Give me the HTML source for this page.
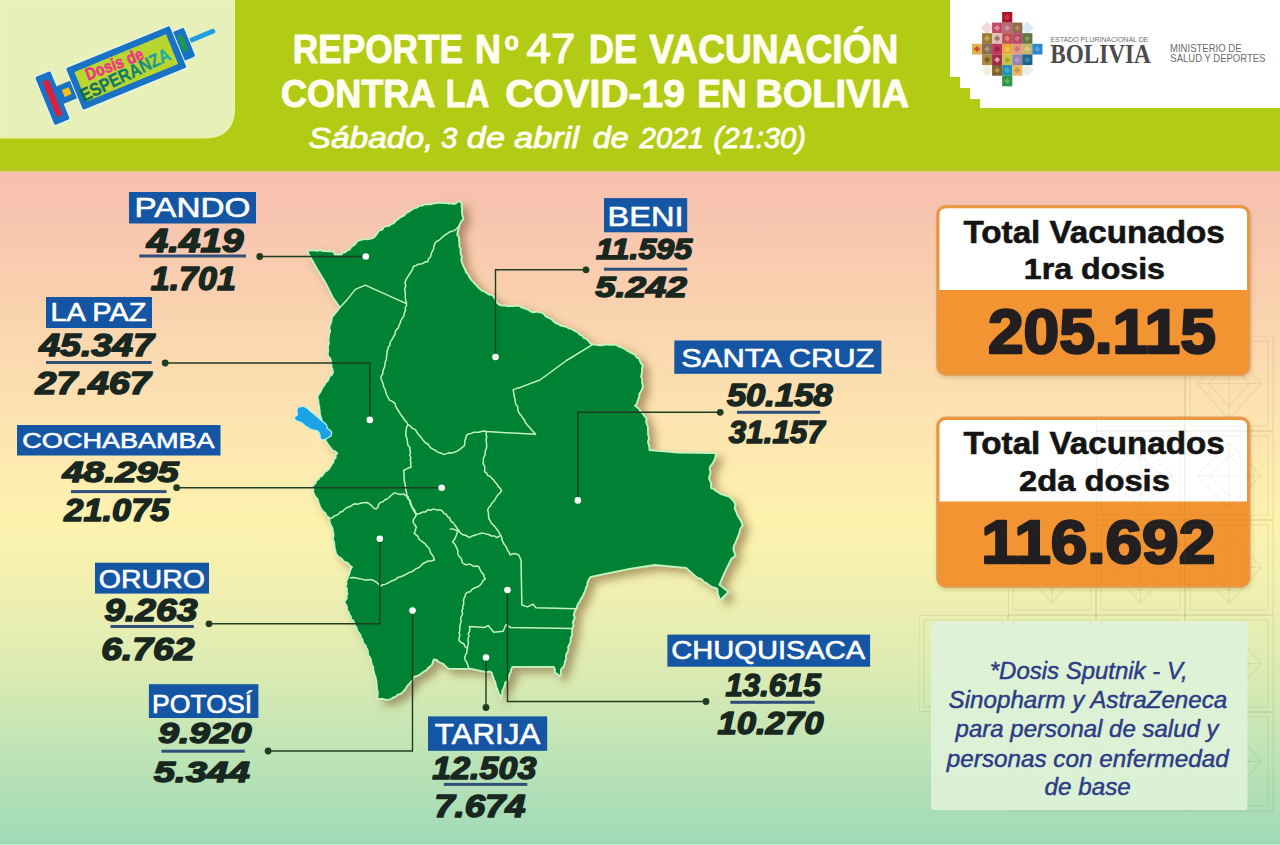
<!DOCTYPE html>
<html><head><meta charset="utf-8"><title>Reporte 47 Vacunacion Bolivia</title>
<style>
html,body{margin:0;padding:0;background:#fff;}
body{width:1280px;height:845px;overflow:hidden;font-family:"Liberation Sans",sans-serif;}
svg{display:block;}
</style></head><body>
<svg width="1280" height="845" viewBox="0 0 1280 845">
<defs>
<linearGradient id="bg" x1="0" y1="171" x2="0" y2="845" gradientUnits="userSpaceOnUse">
<stop offset="0" stop-color="#f6bfad"/>
<stop offset="0.09" stop-color="#f8c7b0"/>
<stop offset="0.19" stop-color="#f9d1ae"/>
<stop offset="0.37" stop-color="#fde4b0"/>
<stop offset="0.52" stop-color="#fdf2ae"/>
<stop offset="0.62" stop-color="#f0f0b0"/>
<stop offset="0.74" stop-color="#dcebb2"/>
<stop offset="0.86" stop-color="#bfe4b5"/>
<stop offset="1" stop-color="#9fdab7"/>
</linearGradient>
<filter id="msh" x="-10%" y="-10%" width="130%" height="130%">
<feGaussianBlur in="SourceAlpha" stdDeviation="4.2"/>
<feOffset dx="5.5" dy="5" result="b"/>
<feFlood flood-color="#6b4a20" flood-opacity="0.5"/>
<feComposite in2="b" operator="in"/>
<feMerge><feMergeNode/><feMergeNode in="SourceGraphic"/></feMerge>
</filter>
<filter id="bsh" x="-10%" y="-10%" width="130%" height="130%">
<feGaussianBlur in="SourceAlpha" stdDeviation="2"/>
<feOffset dx="1" dy="2" result="b"/>
<feFlood flood-color="#7a5020" flood-opacity="0.25"/>
<feComposite in2="b" operator="in"/>
<feMerge><feMergeNode/><feMergeNode in="SourceGraphic"/></feMerge>
</filter>
</defs>
<rect x="0" y="0" width="1280" height="845" fill="url(#bg)"/>

<defs><clipPath id="patclip"><path d="M1183,336 H1280 V845 H1008 V712 H919 V615 H1008 V520 H1096 V431 H1183 Z"/></clipPath></defs>
<g clip-path="url(#patclip)" fill="none" stroke="#7d7a3a" stroke-opacity="0.13" stroke-width="1.1">
<rect x="919" y="336" width="89" height="95"/>
<rect x="924" y="341" width="79" height="85"/>
<path d="M963.5,348.0 L996.0,383.5 L963.5,419.0 L931.0,383.5 Z"/>
<path d="M963.5,360.0 L984.0,383.5 L963.5,407.0 L943.0,383.5 Z"/>
<path d="M931.0,383.5 H996.0 M963.5,348.0 V419.0"/>
<rect x="919" y="431" width="89" height="89"/>
<rect x="924" y="436" width="79" height="79"/>
<path d="M963.5,443.0 L996.0,475.5 L963.5,508.0 L931.0,475.5 Z"/>
<path d="M963.5,455.0 L984.0,475.5 L963.5,496.0 L943.0,475.5 Z"/>
<path d="M931.0,475.5 H996.0 M963.5,443.0 V508.0"/>
<rect x="919" y="520" width="89" height="95"/>
<rect x="924" y="525" width="79" height="85"/>
<path d="M963.5,532.0 L996.0,567.5 L963.5,603.0 L931.0,567.5 Z"/>
<path d="M963.5,544.0 L984.0,567.5 L963.5,591.0 L943.0,567.5 Z"/>
<path d="M931.0,567.5 H996.0 M963.5,532.0 V603.0"/>
<rect x="919" y="615" width="89" height="97"/>
<rect x="924" y="620" width="79" height="87"/>
<path d="M963.5,627.0 L996.0,663.5 L963.5,700.0 L931.0,663.5 Z"/>
<path d="M963.5,639.0 L984.0,663.5 L963.5,688.0 L943.0,663.5 Z"/>
<path d="M931.0,663.5 H996.0 M963.5,627.0 V700.0"/>
<rect x="919" y="712" width="89" height="99"/>
<rect x="924" y="717" width="79" height="89"/>
<path d="M963.5,724.0 L996.0,761.5 L963.5,799.0 L931.0,761.5 Z"/>
<path d="M963.5,736.0 L984.0,761.5 L963.5,787.0 L943.0,761.5 Z"/>
<path d="M931.0,761.5 H996.0 M963.5,724.0 V799.0"/>
<rect x="1008" y="336" width="88" height="95"/>
<rect x="1013" y="341" width="78" height="85"/>
<path d="M1052.0,348.0 L1084.0,383.5 L1052.0,419.0 L1020.0,383.5 Z"/>
<path d="M1052.0,360.0 L1072.0,383.5 L1052.0,407.0 L1032.0,383.5 Z"/>
<path d="M1020.0,383.5 H1084.0 M1052.0,348.0 V419.0"/>
<rect x="1008" y="431" width="88" height="89"/>
<rect x="1013" y="436" width="78" height="79"/>
<path d="M1052.0,443.0 L1084.0,475.5 L1052.0,508.0 L1020.0,475.5 Z"/>
<path d="M1052.0,455.0 L1072.0,475.5 L1052.0,496.0 L1032.0,475.5 Z"/>
<path d="M1020.0,475.5 H1084.0 M1052.0,443.0 V508.0"/>
<rect x="1008" y="520" width="88" height="95"/>
<rect x="1013" y="525" width="78" height="85"/>
<path d="M1052.0,532.0 L1084.0,567.5 L1052.0,603.0 L1020.0,567.5 Z"/>
<path d="M1052.0,544.0 L1072.0,567.5 L1052.0,591.0 L1032.0,567.5 Z"/>
<path d="M1020.0,567.5 H1084.0 M1052.0,532.0 V603.0"/>
<rect x="1008" y="615" width="88" height="97"/>
<rect x="1013" y="620" width="78" height="87"/>
<path d="M1052.0,627.0 L1084.0,663.5 L1052.0,700.0 L1020.0,663.5 Z"/>
<path d="M1052.0,639.0 L1072.0,663.5 L1052.0,688.0 L1032.0,663.5 Z"/>
<path d="M1020.0,663.5 H1084.0 M1052.0,627.0 V700.0"/>
<rect x="1008" y="712" width="88" height="99"/>
<rect x="1013" y="717" width="78" height="89"/>
<path d="M1052.0,724.0 L1084.0,761.5 L1052.0,799.0 L1020.0,761.5 Z"/>
<path d="M1052.0,736.0 L1072.0,761.5 L1052.0,787.0 L1032.0,761.5 Z"/>
<path d="M1020.0,761.5 H1084.0 M1052.0,724.0 V799.0"/>
<rect x="1096" y="336" width="89" height="95"/>
<rect x="1101" y="341" width="79" height="85"/>
<path d="M1140.5,348.0 L1173.0,383.5 L1140.5,419.0 L1108.0,383.5 Z"/>
<path d="M1140.5,360.0 L1161.0,383.5 L1140.5,407.0 L1120.0,383.5 Z"/>
<path d="M1108.0,383.5 H1173.0 M1140.5,348.0 V419.0"/>
<rect x="1096" y="431" width="89" height="89"/>
<rect x="1101" y="436" width="79" height="79"/>
<path d="M1140.5,443.0 L1173.0,475.5 L1140.5,508.0 L1108.0,475.5 Z"/>
<path d="M1140.5,455.0 L1161.0,475.5 L1140.5,496.0 L1120.0,475.5 Z"/>
<path d="M1108.0,475.5 H1173.0 M1140.5,443.0 V508.0"/>
<rect x="1096" y="520" width="89" height="95"/>
<rect x="1101" y="525" width="79" height="85"/>
<path d="M1140.5,532.0 L1173.0,567.5 L1140.5,603.0 L1108.0,567.5 Z"/>
<path d="M1140.5,544.0 L1161.0,567.5 L1140.5,591.0 L1120.0,567.5 Z"/>
<path d="M1108.0,567.5 H1173.0 M1140.5,532.0 V603.0"/>
<rect x="1096" y="615" width="89" height="97"/>
<rect x="1101" y="620" width="79" height="87"/>
<path d="M1140.5,627.0 L1173.0,663.5 L1140.5,700.0 L1108.0,663.5 Z"/>
<path d="M1140.5,639.0 L1161.0,663.5 L1140.5,688.0 L1120.0,663.5 Z"/>
<path d="M1108.0,663.5 H1173.0 M1140.5,627.0 V700.0"/>
<rect x="1096" y="712" width="89" height="99"/>
<rect x="1101" y="717" width="79" height="89"/>
<path d="M1140.5,724.0 L1173.0,761.5 L1140.5,799.0 L1108.0,761.5 Z"/>
<path d="M1140.5,736.0 L1161.0,761.5 L1140.5,787.0 L1120.0,761.5 Z"/>
<path d="M1108.0,761.5 H1173.0 M1140.5,724.0 V799.0"/>
<rect x="1185" y="336" width="88" height="95"/>
<rect x="1190" y="341" width="78" height="85"/>
<path d="M1229.0,348.0 L1261.0,383.5 L1229.0,419.0 L1197.0,383.5 Z"/>
<path d="M1229.0,360.0 L1249.0,383.5 L1229.0,407.0 L1209.0,383.5 Z"/>
<path d="M1197.0,383.5 H1261.0 M1229.0,348.0 V419.0"/>
<rect x="1185" y="431" width="88" height="89"/>
<rect x="1190" y="436" width="78" height="79"/>
<path d="M1229.0,443.0 L1261.0,475.5 L1229.0,508.0 L1197.0,475.5 Z"/>
<path d="M1229.0,455.0 L1249.0,475.5 L1229.0,496.0 L1209.0,475.5 Z"/>
<path d="M1197.0,475.5 H1261.0 M1229.0,443.0 V508.0"/>
<rect x="1185" y="520" width="88" height="95"/>
<rect x="1190" y="525" width="78" height="85"/>
<path d="M1229.0,532.0 L1261.0,567.5 L1229.0,603.0 L1197.0,567.5 Z"/>
<path d="M1229.0,544.0 L1249.0,567.5 L1229.0,591.0 L1209.0,567.5 Z"/>
<path d="M1197.0,567.5 H1261.0 M1229.0,532.0 V603.0"/>
<rect x="1185" y="615" width="88" height="97"/>
<rect x="1190" y="620" width="78" height="87"/>
<path d="M1229.0,627.0 L1261.0,663.5 L1229.0,700.0 L1197.0,663.5 Z"/>
<path d="M1229.0,639.0 L1249.0,663.5 L1229.0,688.0 L1209.0,663.5 Z"/>
<path d="M1197.0,663.5 H1261.0 M1229.0,627.0 V700.0"/>
<rect x="1185" y="712" width="88" height="99"/>
<rect x="1190" y="717" width="78" height="89"/>
<path d="M1229.0,724.0 L1261.0,761.5 L1229.0,799.0 L1197.0,761.5 Z"/>
<path d="M1229.0,736.0 L1249.0,761.5 L1229.0,787.0 L1209.0,761.5 Z"/>
<path d="M1197.0,761.5 H1261.0 M1229.0,724.0 V799.0"/>
</g>
<rect x="0" y="0" width="1280" height="171.5" fill="#b2cb15"/>
<rect x="0" y="168.5" width="1280" height="3" fill="#bcc230" opacity="0.6"/>
<rect x="0" y="171" width="1280" height="2" fill="#eccc90" opacity="0.8"/>
<path d="M0,0 H234.5 V108 Q234.5,138 204.5,138 H0 Z" fill="#e8f0ba" stroke="#eef8a0" stroke-width="1"/>
<path d="M950,0 H1280 V108 H980 V99 H970 V88 H960 V77 H950 Z" fill="#ffffff"/>
<g transform="translate(126.25,67.9) rotate(-22.3)">
<rect x="-91" y="-29" width="189" height="58" rx="6" fill="#f4fbe0" opacity="0.0"/>
<rect x="-88.5" y="-26.5" width="17.5" height="53" rx="2.5" fill="#1a72c4" stroke="#e6fbf4" stroke-width="1"/>
<rect x="-83" y="-19" width="6.5" height="38" rx="1" fill="#d8213f"/>
<rect x="-72" y="-9.5" width="17" height="19" fill="#1a72c4"/>
<rect x="-68" y="-4" width="7.5" height="7.5" fill="#f6c21a"/>
<line x1="66" y1="-1" x2="94" y2="-1" stroke="#1e9fe0" stroke-width="4.8" stroke-linecap="round"/>
<rect x="55" y="-16" width="14" height="32" rx="2.5" fill="#1a72c4" stroke="#e6fbf4" stroke-width="1"/>
<rect x="59" y="-10" width="5.5" height="17" rx="2.5" fill="#1a9a48"/>
<rect x="-56.5" y="-23" width="113" height="46" rx="2" fill="#1a72c4" stroke="#e6fbf4" stroke-width="1"/>
<rect x="-49.5" y="-16" width="99" height="32" fill="#b9d531"/>
</g>
<g transform="translate(88,80.5) rotate(-21)">
<text x="0" y="0" font-family="Liberation Sans" font-weight="bold" font-size="17" textLength="61" lengthAdjust="spacingAndGlyphs" fill="#ea3a82" stroke="#ea3a82" stroke-width="0.6">Dosis de</text>
</g>
<defs><linearGradient id="espg" x1="0" y1="0" x2="98" y2="0" gradientUnits="userSpaceOnUse"><stop offset="0" stop-color="#0d6a52"/><stop offset="0.6" stop-color="#138070"/><stop offset="1" stop-color="#22b2a8"/></linearGradient></defs>
<g transform="translate(84,102) rotate(-26)">
<text x="0" y="0" font-family="Liberation Sans" font-weight="bold" font-size="18.5" textLength="98" lengthAdjust="spacingAndGlyphs" fill="url(#espg)" stroke="url(#espg)" stroke-width="0.3">ESPERANZA</text>
</g>
<path d="M987.07,21.40 L993.57,27.90 L987.07,34.40 L980.57,27.90 Z" fill="#f2d4d8" opacity="0.9"/>
<path d="M1027.28,21.40 L1033.78,27.90 L1027.28,34.40 L1020.78,27.90 Z" fill="#d4e6f4" opacity="0.9"/>
<path d="M1027.28,63.80 L1033.78,70.30 L1027.28,76.80 L1020.78,70.30 Z" fill="#e6eee6" opacity="0.9"/>
<path d="M987.07,63.80 L993.57,70.30 L987.07,76.80 L980.57,70.30 Z" fill="#f4f0d8" opacity="0.9"/>
<rect x="1002.15" y="12.00" width="10.15" height="10.70" fill="#a8172e"/>
<path d="M1007.17,14.29 L1010.19,17.30 L1007.17,20.32 L1004.16,17.30 Z" fill="#d04050" opacity="0.8"/>
<rect x="992.10" y="22.60" width="10.15" height="10.70" fill="#c24a68"/>
<path d="M997.12,24.89 L1000.14,27.90 L997.12,30.92 L994.11,27.90 Z" fill="#e8a0a8" opacity="0.8"/>
<rect x="1002.15" y="22.60" width="10.15" height="10.70" fill="#b76a78"/>
<path d="M1007.17,24.89 L1010.19,27.90 L1007.17,30.92 L1004.16,27.90 Z" fill="#d9a0a0" opacity="0.8"/>
<rect x="1012.20" y="22.60" width="10.15" height="10.70" fill="#8f6a48"/>
<path d="M1017.23,24.89 L1020.24,27.90 L1017.23,30.92 L1014.21,27.90 Z" fill="#c09060" opacity="0.8"/>
<rect x="982.05" y="33.20" width="10.15" height="10.70" fill="#9c7a34"/>
<path d="M987.07,35.48 L990.09,38.50 L987.07,41.52 L984.06,38.50 Z" fill="#d0b050" opacity="0.8"/>
<rect x="992.10" y="33.20" width="10.15" height="10.70" fill="#d9c2b4"/>
<path d="M997.12,35.48 L1000.14,38.50 L997.12,41.52 L994.11,38.50 Z" fill="#a05060" opacity="0.8"/>
<rect x="1002.15" y="33.20" width="10.15" height="10.70" fill="#c24c52"/>
<path d="M1007.17,35.48 L1010.19,38.50 L1007.17,41.52 L1004.16,38.50 Z" fill="#e09090" opacity="0.8"/>
<rect x="1012.20" y="33.20" width="10.15" height="10.70" fill="#b34a66"/>
<path d="M1017.23,35.48 L1020.24,38.50 L1017.23,41.52 L1014.21,38.50 Z" fill="#d88090" opacity="0.8"/>
<rect x="1022.25" y="33.20" width="10.15" height="10.70" fill="#5f7444"/>
<path d="M1027.28,35.48 L1030.29,38.50 L1027.28,41.52 L1024.26,38.50 Z" fill="#90a060" opacity="0.8"/>
<rect x="972.00" y="43.80" width="10.15" height="10.70" fill="#e2b04a"/>
<path d="M977.02,46.08 L980.04,49.10 L977.02,52.11 L974.01,49.10 Z" fill="#c03030" opacity="0.8"/>
<rect x="982.05" y="43.80" width="10.15" height="10.70" fill="#8a6a5a"/>
<path d="M987.07,46.08 L990.09,49.10 L987.07,52.11 L984.06,49.10 Z" fill="#c0a080" opacity="0.8"/>
<rect x="992.10" y="43.80" width="10.15" height="10.70" fill="#c2345a"/>
<path d="M997.12,46.08 L1000.14,49.10 L997.12,52.11 L994.11,49.10 Z" fill="#802040" opacity="0.8"/>
<rect x="1002.15" y="43.80" width="10.15" height="10.70" fill="#e8a838"/>
<path d="M1007.17,46.08 L1010.19,49.10 L1007.17,52.11 L1004.16,49.10 Z" fill="#f0c860" opacity="0.8"/>
<rect x="1012.20" y="43.80" width="10.15" height="10.70" fill="#e39b80"/>
<path d="M1017.23,46.08 L1020.24,49.10 L1017.23,52.11 L1014.21,49.10 Z" fill="#c87060" opacity="0.8"/>
<rect x="1022.25" y="43.80" width="10.15" height="10.70" fill="#c8b468"/>
<path d="M1027.28,46.08 L1030.29,49.10 L1027.28,52.11 L1024.26,49.10 Z" fill="#e0d090" opacity="0.8"/>
<rect x="1032.30" y="43.80" width="10.15" height="10.70" fill="#2a88cc"/>
<path d="M1037.33,46.08 L1040.34,49.10 L1037.33,52.11 L1034.31,49.10 Z" fill="#60b0e0" opacity="0.8"/>
<rect x="982.05" y="54.40" width="10.15" height="10.70" fill="#a88a40"/>
<path d="M987.07,56.68 L990.09,59.70 L987.07,62.71 L984.06,59.70 Z" fill="#704820" opacity="0.8"/>
<rect x="992.10" y="54.40" width="10.15" height="10.70" fill="#a22a48"/>
<path d="M997.12,56.68 L1000.14,59.70 L997.12,62.71 L994.11,59.70 Z" fill="#e0c0c0" opacity="0.8"/>
<rect x="1002.15" y="54.40" width="10.15" height="10.70" fill="#c6c24a"/>
<path d="M1007.17,56.68 L1010.19,59.70 L1007.17,62.71 L1004.16,59.70 Z" fill="#90a030" opacity="0.8"/>
<rect x="1012.20" y="54.40" width="10.15" height="10.70" fill="#9484b4"/>
<path d="M1017.23,56.68 L1020.24,59.70 L1017.23,62.71 L1014.21,59.70 Z" fill="#b0a0d0" opacity="0.8"/>
<rect x="1022.25" y="54.40" width="10.15" height="10.70" fill="#1f6488"/>
<path d="M1027.28,56.68 L1030.29,59.70 L1027.28,62.71 L1024.26,59.70 Z" fill="#4090b0" opacity="0.8"/>
<rect x="992.10" y="65.00" width="10.15" height="10.70" fill="#7c6030"/>
<path d="M997.12,67.28 L1000.14,70.30 L997.12,73.31 L994.11,70.30 Z" fill="#c0a040" opacity="0.8"/>
<rect x="1002.15" y="65.00" width="10.15" height="10.70" fill="#2392b4"/>
<path d="M1007.17,67.28 L1010.19,70.30 L1007.17,73.31 L1004.16,70.30 Z" fill="#50b0d0" opacity="0.8"/>
<rect x="1012.20" y="65.00" width="10.15" height="10.70" fill="#e4b864"/>
<path d="M1017.23,67.28 L1020.24,70.30 L1017.23,73.31 L1014.21,70.30 Z" fill="#c09040" opacity="0.8"/>
<rect x="1002.15" y="75.60" width="10.15" height="10.70" fill="#2f9444"/>
<path d="M1007.17,77.88 L1010.19,80.90 L1007.17,83.91 L1004.16,80.90 Z" fill="#60c060" opacity="0.8"/>
<text x="1050.43" y="41.60" font-family="Liberation Sans" font-weight="normal" font-style="normal" font-size="7.12" textLength="97.97" lengthAdjust="spacingAndGlyphs" fill="#6e6e70" >ESTADO PLURINACIONAL DE</text>
<text x="1050.21" y="62.70" font-family="Liberation Serif" font-weight="bold" font-style="normal" font-size="28.24" textLength="100.67" lengthAdjust="spacingAndGlyphs" fill="#4b4b4d" >BOLIVIA</text>
<text x="1170.02" y="51.75" font-family="Liberation Sans" font-weight="normal" font-style="normal" font-size="11.12" textLength="71.49" lengthAdjust="spacingAndGlyphs" fill="#6a6a6c" >MINISTERIO DE</text>
<text x="1170.37" y="62.30" font-family="Liberation Sans" font-weight="normal" font-style="normal" font-size="10.90" textLength="95.06" lengthAdjust="spacingAndGlyphs" fill="#6a6a6c" >SALUD Y DEPORTES</text>
<text x="292.84" y="63.10" font-family="Liberation Sans" font-weight="bold" font-style="normal" font-size="40.26" textLength="170.03" lengthAdjust="spacingAndGlyphs" fill="#fffff0" stroke="#fffff0" stroke-width="1.0" stroke-linejoin="round" >REPORTE</text>
<text x="474.98" y="63.10" font-family="Liberation Sans" font-weight="bold" font-style="normal" font-size="40.26" textLength="26.04" lengthAdjust="spacingAndGlyphs" fill="#fffff0" stroke="#fffff0" stroke-width="1.0" stroke-linejoin="round" >N</text>
<text x="589.08" y="63.10" font-family="Liberation Sans" font-weight="bold" font-style="normal" font-size="40.26" textLength="48.02" lengthAdjust="spacingAndGlyphs" fill="#fffff0" stroke="#fffff0" stroke-width="1.0" stroke-linejoin="round" >DE</text>
<text x="649.34" y="63.10" font-family="Liberation Sans" font-weight="bold" font-style="normal" font-size="40.26" textLength="248.97" lengthAdjust="spacingAndGlyphs" fill="#fffff0" stroke="#fffff0" stroke-width="1.0" stroke-linejoin="round" >VACUNACIÓN</text>
<text x="504.49" y="49.50" font-family="Liberation Sans" font-weight="bold" font-style="normal" font-size="25.28" textLength="14.33" lengthAdjust="spacingAndGlyphs" fill="#fffff0" stroke="#fffff0" stroke-width="0.8" stroke-linejoin="round" >o</text>
<text x="526.49" y="63.00" font-family="Liberation Sans" font-weight="normal" font-style="normal" font-size="42.01" textLength="48.87" lengthAdjust="spacingAndGlyphs" fill="#fffff0" stroke="#fffff0" stroke-width="1.2" stroke-linejoin="round" >47</text>
<text x="281.02" y="106.70" font-family="Liberation Sans" font-weight="bold" font-style="normal" font-size="38.81" textLength="154.43" lengthAdjust="spacingAndGlyphs" fill="#fffff0" stroke="#fffff0" stroke-width="1.0" stroke-linejoin="round" >CONTRA</text>
<text x="445.83" y="106.70" font-family="Liberation Sans" font-weight="bold" font-style="normal" font-size="38.81" textLength="43.27" lengthAdjust="spacingAndGlyphs" fill="#fffff0" stroke="#fffff0" stroke-width="1.0" stroke-linejoin="round" >LA</text>
<text x="505.15" y="106.70" font-family="Liberation Sans" font-weight="bold" font-style="normal" font-size="38.81" textLength="179.80" lengthAdjust="spacingAndGlyphs" fill="#fffff0" stroke="#fffff0" stroke-width="1.0" stroke-linejoin="round" >COVID-19</text>
<text x="697.31" y="106.70" font-family="Liberation Sans" font-weight="bold" font-style="normal" font-size="38.81" textLength="49.48" lengthAdjust="spacingAndGlyphs" fill="#fffff0" stroke="#fffff0" stroke-width="1.0" stroke-linejoin="round" >EN</text>
<text x="755.56" y="106.70" font-family="Liberation Sans" font-weight="bold" font-style="normal" font-size="38.81" textLength="153.61" lengthAdjust="spacingAndGlyphs" fill="#fffff0" stroke="#fffff0" stroke-width="1.0" stroke-linejoin="round" >BOLIVIA</text>
<text x="308.61" y="147.55" font-family="Liberation Sans" font-weight="normal" font-style="italic" font-size="29.94" textLength="124.81" lengthAdjust="spacingAndGlyphs" fill="#fffff4" stroke="#fffff4" stroke-width="0.9" stroke-linejoin="round" >Sábado,</text>
<text x="440.95" y="147.55" font-family="Liberation Sans" font-weight="normal" font-style="italic" font-size="29.94" textLength="16.27" lengthAdjust="spacingAndGlyphs" fill="#fffff4" stroke="#fffff4" stroke-width="0.9" stroke-linejoin="round" >3</text>
<text x="466.89" y="147.55" font-family="Liberation Sans" font-weight="normal" font-style="italic" font-size="29.94" textLength="38.04" lengthAdjust="spacingAndGlyphs" fill="#fffff4" stroke="#fffff4" stroke-width="0.9" stroke-linejoin="round" >de</text>
<text x="513.99" y="147.55" font-family="Liberation Sans" font-weight="normal" font-style="italic" font-size="29.94" textLength="65.05" lengthAdjust="spacingAndGlyphs" fill="#fffff4" stroke="#fffff4" stroke-width="0.9" stroke-linejoin="round" >abril</text>
<text x="592.85" y="147.55" font-family="Liberation Sans" font-weight="normal" font-style="italic" font-size="29.94" textLength="35.90" lengthAdjust="spacingAndGlyphs" fill="#fffff4" stroke="#fffff4" stroke-width="0.9" stroke-linejoin="round" >de</text>
<text x="639.82" y="147.55" font-family="Liberation Sans" font-weight="normal" font-style="italic" font-size="29.94" textLength="64.38" lengthAdjust="spacingAndGlyphs" fill="#fffff4" stroke="#fffff4" stroke-width="0.9" stroke-linejoin="round" >2021</text>
<text x="713.48" y="147.55" font-family="Liberation Sans" font-weight="normal" font-style="italic" font-size="29.94" textLength="92.61" lengthAdjust="spacingAndGlyphs" fill="#fffff4" stroke="#fffff4" stroke-width="0.9" stroke-linejoin="round" >(21:30)</text>
<g filter="url(#msh)">
<polygon points="307.1,251.1 309.4,250.6 311.8,250.1 314.2,250.4 317.0,250.8 319.9,250.1 322.7,251.0 325.6,251.1 328.5,251.4 331.4,251.3 334.1,252.5 334.8,254.6 338.0,254.6 341.2,254.6 343.0,252.7 345.4,252.1 347.2,250.3 349.7,249.7 351.0,247.3 353.2,245.7 355.4,244.1 356.8,241.8 359.4,240.2 362.5,239.7 364.8,239.0 367.3,239.4 369.6,239.0 372.7,238.2 375.2,236.2 376.7,234.4 377.9,232.3 379.5,230.5 382.3,229.7 383.9,227.0 386.6,226.2 389.2,225.8 391.2,224.0 393.7,223.4 395.5,221.2 397.6,219.4 399.9,217.8 402.2,216.3 404.5,215.3 405.9,213.0 408.3,212.1 410.3,210.8 412.2,209.2 414.6,208.1 417.2,207.5 419.4,205.8 422.1,205.6 424.8,204.4 427.7,204.1 430.6,204.3 433.4,203.5 436.3,203.2 439.1,202.7 442.0,202.8 444.4,203.2 446.7,203.2 449.1,203.5 451.6,203.5 454.0,204.2 456.8,202.8 459.0,200.7 461.8,203.5 461.5,206.3 462.2,209.2 461.8,212.0 462.2,214.4 462.8,216.7 463.3,219.1 461.4,221.2 460.1,223.6 459.0,226.2 458.6,229.1 457.6,231.9 457.3,234.9 459.1,237.5 459.0,240.4 459.5,243.2 459.3,246.2 460.6,248.9 460.4,251.8 460.8,254.3 461.8,256.6 461.2,259.3 461.8,261.7 462.6,264.6 464.0,267.3 465.3,270.0 466.1,272.5 468.2,274.3 469.0,276.8 470.6,278.9 472.3,281.0 474.1,283.0 476.0,284.9 477.7,286.9 479.6,288.9 481.7,290.6 484.4,291.5 486.6,293.1 488.9,294.5 491.6,294.8 493.7,296.6 494.8,298.8 496.2,300.7 497.0,303.0 499.0,304.6 501.9,305.7 505.0,305.5 507.9,306.4 510.8,305.9 513.9,306.1 516.8,305.5 519.5,305.8 521.6,307.5 524.1,308.1 526.5,309.1 528.9,310.0 531.0,311.7 533.6,312.4 536.4,311.6 539.0,312.0 541.6,312.6 544.1,314.2 546.0,316.6 548.7,317.9 551.5,319.1 553.5,321.4 555.8,323.2 558.4,324.2 561.0,325.6 563.7,326.4 566.5,326.8 568.4,328.4 571.1,328.7 573.2,330.0 575.3,331.2 577.8,332.5 579.7,334.7 582.4,335.7 583.7,338.0 586.4,338.8 588.1,340.6 589.8,342.4 591.3,344.5 594.0,344.3 596.7,344.9 599.3,345.3 602.0,345.4 604.3,344.9 606.7,344.3 609.1,344.8 611.5,344.6 613.8,344.8 616.2,344.5 618.2,346.3 620.8,347.2 623.3,348.1 625.5,349.4 627.6,350.9 629.8,352.3 632.1,353.4 634.9,354.6 636.5,357.4 639.2,358.7 640.0,361.3 641.1,363.7 642.8,365.8 641.9,368.4 642.1,371.2 641.6,373.9 641.0,376.5 642.2,379.3 642.0,382.5 642.8,385.4 642.5,387.9 641.6,390.1 640.5,392.2 639.2,394.2 639.2,396.7 638.3,399.0 637.5,401.3 636.8,403.9 634.8,405.8 637.4,407.3 639.3,409.5 641.0,412.0 642.9,413.5 643.9,415.6 645.7,417.2 646.4,419.5 646.1,421.9 646.8,424.3 647.8,426.5 647.9,428.9 648.0,431.3 648.0,433.7 648.4,436.0 649.0,438.4 648.1,440.8 648.1,443.2 649.1,445.5 649.3,447.8 649.5,450.2 678.3,452.6 713.3,453.1 715.3,452.1 715.6,454.8 715.3,457.5 714.3,460.1 713.2,462.3 711.9,464.4 710.3,466.2 709.5,468.6 710.3,471.3 710.3,473.8 709.3,476.2 709.0,478.7 710.1,481.0 711.1,483.4 710.8,485.9 711.3,488.3 714.0,489.0 716.0,491.0 718.4,492.3 720.6,494.0 723.2,494.8 725.8,495.6 728.4,496.3 730.7,498.1 732.6,500.2 734.4,502.4 735.3,505.0 734.7,507.8 735.5,510.4 736.8,513.1 737.8,516.0 739.5,518.5 740.8,520.7 741.9,523.0 742.5,525.5 741.0,527.7 739.8,529.9 739.5,532.6 735.5,542.6 734.3,544.8 733.6,547.2 733.4,549.7 735.5,555.7 731.4,558.7 724.4,572.8 719.4,584.9 728.4,591.9 719.4,601.0 719.5,598.5 718.9,596.1 717.7,593.8 717.7,591.3 717.3,588.9 715.0,587.9 712.5,587.2 710.3,586.0 708.3,584.4 706.3,582.9 704.1,582.0 702.4,580.2 700.6,578.6 698.2,578.1 696.2,576.8 686.2,567.8 654.7,565.0 631.0,568.6 607.3,573.3 590.8,576.9 589.2,578.7 588.2,580.8 587.3,583.0 587.2,585.5 586.0,587.5 585.4,590.0 584.4,592.3 583.4,594.6 582.4,596.9 580.8,598.9 580.0,601.3 578.3,603.3 577.3,605.5 576.7,608.0 575.3,610.2 574.4,612.5 573.7,615.1 574.7,617.8 573.5,620.3 572.9,622.9 573.4,625.6 572.5,628.0 572.1,630.5 572.0,633.1 572.0,635.7 570.6,638.0 570.6,640.6 570.2,643.0 568.9,645.1 568.0,647.3 568.3,649.8 567.6,652.1 566.2,654.2 565.9,656.6 566.1,659.1 565.0,661.3 564.6,664.0 563.7,666.5 561.6,668.6 560.8,671.1 560.9,674.0 559.4,676.3 557.4,674.0 554.7,672.5 555.0,669.6 553.8,666.9 512.5,666.9 511.3,669.2 510.9,671.7 509.7,673.9 508.8,676.3 508.4,678.7 507.6,681.0 505.3,682.5 504.8,684.9 504.0,687.2 503.1,689.4 502.0,691.6 502.3,694.1 501.2,696.3 501.3,698.8 500.8,696.1 499.0,694.0 498.1,691.4 497.2,688.9 496.2,686.4 495.6,683.8 495.0,681.5 493.8,679.4 493.3,677.1 492.1,674.9 491.9,672.5 489.5,671.5 486.9,672.1 484.4,671.6 471.3,668.8 448.8,668.8 446.9,667.4 445.1,665.8 443.6,664.0 441.3,663.1 438.7,662.0 436.6,660.0 433.8,659.4 432.8,662.2 431.9,665.0 430.0,666.5 428.1,668.0 426.7,670.1 424.4,671.1 422.5,672.5 420.2,674.2 417.9,675.7 415.0,676.3 413.2,677.9 412.6,680.4 410.8,682.0 409.4,683.8 407.6,685.4 406.3,687.5 405.1,689.6 403.4,691.2 401.9,693.1 399.7,694.1 397.3,694.9 395.6,697.0 393.1,697.4 391.2,699.0 388.8,699.7 385.9,699.8 383.2,698.8 380.3,699.0 377.5,698.8 377.5,696.4 377.7,693.9 377.8,691.5 376.9,689.1 377.0,686.7 376.7,684.3 376.6,681.9 375.9,679.5 375.6,677.0 374.5,674.7 374.0,672.2 373.2,669.8 373.3,667.2 371.9,665.0 371.4,662.5 370.9,660.0 370.2,657.5 368.3,655.5 368.0,652.9 367.8,650.3 366.3,648.1 365.8,645.7 363.9,644.0 362.9,641.8 362.4,639.4 360.9,637.5 360.6,635.0 358.8,632.9 357.2,630.6 356.6,627.8 355.0,625.6 354.3,623.2 353.3,620.8 351.1,619.1 350.8,616.5 349.4,614.4 348.7,612.0 347.0,610.1 347.1,607.4 346.3,605.1 344.7,603.1 345.0,600.6 346.8,598.7 346.6,596.1 347.5,593.8 346.8,591.3 347.0,588.6 345.6,586.3 346.7,583.9 346.3,581.2 347.5,578.8 348.3,576.4 349.3,574.1 350.0,571.6 350.6,569.2 352.0,567.0 349.9,565.7 348.4,563.6 346.2,562.3 343.6,561.3 342.0,559.0 339.8,557.6 337.7,555.9 335.9,553.3 335.3,550.3 334.5,547.3 334.4,544.6 334.0,542.0 333.0,539.4 333.4,536.7 333.6,533.9 332.8,531.3 332.6,528.5 331.3,526.0 330.0,523.3 329.5,520.4 329.2,517.5 326.5,515.9 325.2,512.9 322.8,511.1 321.4,509.1 320.1,507.1 319.5,504.8 318.5,502.6 318.0,500.2 316.9,498.1 315.0,496.4 314.3,494.1 313.0,491.8 313.5,488.9 312.1,486.6 313.8,484.8 315.5,483.1 316.4,480.6 318.5,479.2 319.7,477.0 322.1,476.0 323.5,474.0 324.8,471.9 327.0,470.7 329.2,468.9 330.5,466.4 332.0,464.0 333.5,462.1 333.5,459.5 335.7,457.9 335.6,455.2 337.3,453.4 335.5,451.5 333.0,450.5 331.4,448.8 330.0,447.0 328.3,445.0 327.0,442.7 325.4,440.6 325.5,437.6 323.8,434.9 323.6,432.0 322.6,429.5 322.9,426.9 322.0,424.4 321.5,421.9 321.7,419.3 320.7,416.8 320.0,414.3 319.8,411.7 319.5,409.1 319.3,406.5 318.4,403.6 318.4,400.4 317.4,397.5 318.5,394.7 320.3,392.2 321.7,389.5 322.8,387.1 324.5,385.1 325.6,382.7 327.7,381.0 328.7,378.6 329.7,376.3 332.0,374.7 333.0,372.4 332.6,369.7 331.5,367.2 331.4,364.5 330.9,361.8 330.5,358.7 328.2,356.4 327.7,353.3 328.4,350.8 328.0,348.3 328.2,345.8 329.0,343.3 328.4,340.8 328.8,338.3 329.0,335.8 329.5,333.2 330.2,330.7 329.3,328.1 329.8,325.6 331.0,322.9 331.6,319.9 332.0,317.0 333.9,315.1 335.4,312.9 337.3,311.0 339.5,307.0 332.7,297.2 325.6,283.0 317.0,268.8" fill="#018236" stroke="#c4f3bf" stroke-width="1.8" stroke-linejoin="round"/>
</g>
<polyline points="459.0,226.2 456.2,229.1 454.3,230.6 451.9,231.3 449.6,231.9 447.6,233.3 445.0,235.0 442.6,236.8 440.5,239.0 438.7,240.5 436.5,241.5 434.9,243.3 433.9,246.1 433.6,249.2 432.0,251.8 431.0,254.3 430.5,257.0 428.3,259.0 427.8,261.7 425.2,261.8 423.1,263.4 420.8,264.1 418.2,264.2 416.1,265.7 413.6,266.0 413.0,268.3 411.9,270.5 410.6,272.5 409.3,274.5 407.4,277.3 405.8,280.2 404.9,283.0 405.9,285.9 404.6,288.6 405.1,291.5 405.4,294.4 405.2,297.3 405.7,300.1 406.5,302.9 406.5,305.5 405.2,307.8 405.5,310.4 404.4,312.8 404.0,315.7 402.4,318.2 400.8,320.6 400.1,323.4 398.9,325.5 398.4,327.9 396.4,329.6 395.3,331.7 395.1,334.2 393.7,336.2 392.7,338.4 391.4,340.4 390.0,342.4 390.0,345.0 388.4,346.9 387.9,349.4 386.9,351.9 387.0,354.6 386.4,357.1 386.3,359.7 385.2,362.0 385.0,364.5 384.6,366.9 383.5,369.2 382.9,371.6 382.6,374.1 381.2,376.3 381.0,378.8 382.2,381.4 383.1,384.1 383.8,387.0 385.2,389.5 385.8,392.3 386.8,395.0 388.2,397.5 389.5,400.1 392.4,401.4 395.0,403.4 395.6,405.8 396.6,408.0 397.9,410.0 399.3,412.0 400.4,414.3 402.1,416.2 403.6,418.3 404.9,420.5 406.8,422.3 407.8,424.7" fill="none" stroke="#c4f3bf" stroke-width="1.5" stroke-linejoin="round" stroke-linecap="round"/>
<polyline points="338.3,309.3 346.8,300.1 355.3,289.4 365.3,285.1 406.4,303.6" fill="none" stroke="#c4f3bf" stroke-width="1.5" stroke-linejoin="round" stroke-linecap="round"/>
<polyline points="407.8,424.7 410.2,425.9 411.9,428.0 414.5,429.1 416.3,431.1 417.6,433.4 419.4,435.5 421.2,437.4 422.7,439.7 424.3,441.5 426.0,443.2 428.3,444.3 429.5,446.5 431.2,448.2 433.3,449.4 435.5,450.4 437.3,451.9 439.6,452.8 441.9,453.4 444.0,454.6 446.5,453.6 449.0,452.8 451.8,453.1 454.3,452.3 456.8,451.4 459.4,449.7 461.7,447.7 464.2,446.0 464.8,443.4 464.9,440.6 465.9,438.1 466.4,435.4 468.7,433.8 471.4,433.4 473.8,432.2 476.4,432.3 478.9,432.2 481.5,431.5 484.0,431.1 486.6,431.6 535.6,434.3 527.1,424.7 525.5,422.7 524.5,420.3 522.9,418.3 521.7,416.0 519.9,414.2 518.6,412.0 517.7,409.5 517.8,406.8 516.0,404.6 515.3,402.1 515.1,399.5 514.3,397.0 514.1,394.5 513.5,392.1 513.2,389.6 515.6,388.9 518.0,387.9 520.5,387.4 522.8,386.4 539.9,380.0 566.5,360.5 591.3,345.4" fill="none" stroke="#c4f3bf" stroke-width="1.5" stroke-linejoin="round" stroke-linecap="round"/>
<polyline points="486.6,431.6 485.9,434.1 486.7,436.5 486.3,439.0 486.2,441.4 486.6,443.9 486.6,446.4 486.3,448.9 485.1,451.2 485.3,453.8 484.5,456.1 483.3,458.4 483.4,461.0 483.1,463.7 484.5,466.2 484.8,468.9 484.5,471.6 486.6,473.1 487.7,475.5 490.3,476.4 491.9,478.4 493.8,480.1 495.1,482.3 497.1,484.1 498.3,486.6 500.3,488.4 501.5,490.8 500.0,493.0 498.0,494.8 496.4,497.0 495.1,499.3 493.7,501.5 491.8,503.3 490.6,505.7 488.8,507.6 487.7,510.0 488.4,512.8 488.6,515.6 488.7,518.5 490.2,520.7 491.4,523.2 493.4,525.0 495.1,527.0 496.6,529.1 498.3,531.1 499.4,533.4 500.8,535.4 501.9,537.5 501.9,540.1 503.1,542.2 504.2,544.3 505.8,546.2 506.8,548.3 507.6,550.6 509.2,552.4 510.0,554.7 514.3,553.6 518.6,554.7 519.8,557.3 521.0,560.0 521.9,605.0 527.5,606.9 533.1,604.1 535.9,607.8 576.3,608.8" fill="none" stroke="#c4f3bf" stroke-width="1.5" stroke-linejoin="round" stroke-linecap="round"/>
<polyline points="407.8,424.7 406.6,427.2 406.2,429.9 405.9,432.7 405.7,435.4 406.8,437.8 407.3,440.3 407.5,442.9 408.1,445.5 409.9,447.6 409.9,450.3 410.6,452.7 409.6,455.2 410.9,457.5 410.3,460.0 410.9,462.4 410.6,464.9 411.0,467.3 408.3,467.9 406.0,469.3 403.5,470.5 403.9,472.8 404.2,475.2 404.0,477.6 404.2,480.0 404.6,482.3 405.2,484.8 405.5,487.4 405.8,489.9 406.6,492.4 406.7,495.0 408.2,496.9 408.7,499.3 410.4,501.1 410.8,503.6 411.6,505.9 412.7,508.0 414.5,509.8 415.3,512.0 416.3,514.2" fill="none" stroke="#c4f3bf" stroke-width="1.5" stroke-linejoin="round" stroke-linecap="round"/>
<polyline points="330.2,518.6 332.5,517.8 334.2,515.9 336.5,515.2 338.7,514.1 340.2,512.0 342.6,511.4 344.3,509.5 346.2,508.1 348.4,507.0 350.8,506.3 352.6,504.7 355.0,503.8 357.6,504.2 360.0,503.4 362.5,502.8 365.0,502.8 367.5,502.6 369.7,504.1 371.8,505.8 373.5,507.9 376.0,509.0 378.0,507.2 378.5,504.5 380.3,502.6 382.8,501.8 384.6,500.0 387.0,499.0 389.0,497.5 390.8,495.7 392.7,494.0 395.0,492.9 397.8,493.9 400.7,494.4 403.7,494.1 406.7,496.1 407.7,498.5 409.6,500.4 409.9,503.1 411.1,505.3 412.2,507.7 413.3,510.0 414.5,512.3 416.3,514.2" fill="none" stroke="#c4f3bf" stroke-width="1.5" stroke-linejoin="round" stroke-linecap="round"/>
<polyline points="416.3,514.2 419.6,513.5 422.7,512.1 425.5,511.9 427.8,509.8 430.8,510.3 433.3,508.9 436.4,509.9 439.7,510.0 442.2,510.8 443.7,513.2 446.1,514.2 447.5,516.6 449.9,518.2 450.7,521.1 453.1,522.6 454.7,524.9 456.3,527.0 457.7,529.3 459.2,531.4 461.0,533.4 463.0,534.8 465.4,535.2 467.5,536.5 469.6,537.6 472.0,536.0 474.8,535.2 477.5,534.4 480.2,533.4 483.1,533.1 485.9,533.9 488.7,534.5 491.4,536.0 494.6,536.1 497.3,537.6 500.5,535.5" fill="none" stroke="#c4f3bf" stroke-width="1.5" stroke-linejoin="round" stroke-linecap="round"/>
<polyline points="416.3,514.2 415.6,516.5 414.1,518.4 413.1,520.6 413.5,523.1 415.0,525.0 416.3,527.0 415.3,530.2 414.2,533.4 416.1,534.9 418.0,536.4 418.8,539.0 420.7,540.5 422.7,541.9 425.1,543.8 426.9,546.3 429.1,548.3 429.9,550.8 430.7,553.2 432.6,555.2 433.6,557.5 434.4,560.0 431.3,561.0 428.1,561.0 425.8,562.3 423.4,563.3 421.4,564.9 419.7,567.1 417.3,568.2 415.0,569.4 413.2,571.0 411.1,571.9 408.8,572.5 406.9,574.0 404.8,574.9 402.7,576.0 400.5,576.8 398.1,577.3 396.3,578.8 394.2,580.2 391.7,580.8 389.5,582.2 387.3,583.4 385.0,584.4 382.4,584.8 380.3,586.3 378.5,584.0 376.2,582.2 373.8,580.6 371.5,579.7 369.1,579.7 366.7,580.1 364.4,579.9 362.1,579.1 359.7,578.8 357.4,578.2 355.1,577.8 352.7,577.6 350.3,577.8" fill="none" stroke="#c4f3bf" stroke-width="1.5" stroke-linejoin="round" stroke-linecap="round"/>
<polyline points="450.4,529.1 453.3,528.9 456.0,530.3 458.9,530.2 457.1,532.3 456.5,535.0 455.4,537.4 454.2,539.8 452.5,541.9 454.5,543.7 455.7,545.9 456.8,548.3 457.9,550.7 457.7,553.6 458.9,556.0 460.5,557.7 461.7,559.7 462.0,562.2 463.8,563.8 466.2,564.9 468.9,564.1 471.3,564.9 473.7,566.4 476.3,566.0 478.8,566.6 479.7,568.7 480.7,570.8 481.9,572.8 483.7,574.4 483.9,576.9 485.3,578.8 483.3,580.4 482.1,582.6 480.6,584.6 478.8,586.3 476.4,587.3 474.0,588.2 471.9,589.5 470.2,591.7 467.6,592.2 465.6,593.8 465.1,596.3 463.9,598.7 463.5,601.2 463.8,603.8 462.7,606.2 462.8,608.8 461.8,611.1 462.6,613.7 461.7,616.0 460.5,618.3 461.2,620.9 460.5,623.2 460.0,625.6 459.7,628.1 459.9,630.6 459.1,633.1 459.9,635.6 459.1,638.1 459.1,640.6 461.1,642.5 463.8,643.8 465.1,646.6 467.5,648.1" fill="none" stroke="#c4f3bf" stroke-width="1.5" stroke-linejoin="round" stroke-linecap="round"/>
<polyline points="469.4,668.8 468.2,666.7 467.5,664.3 466.6,662.0 465.1,660.0 464.7,657.5 465.4,655.2 466.8,653.0 466.9,650.5 467.5,648.1 467.7,645.7 468.4,643.4 468.1,640.9 468.0,638.5 469.1,636.2 468.3,633.7 469.6,631.4 469.8,629.0 469.4,626.6 484.4,627.5 488.1,625.6 493.8,632.2 503.1,631.3 506.0,624.7 510.6,627.5 572.5,628.4" fill="none" stroke="#c4f3bf" stroke-width="1.5" stroke-linejoin="round" stroke-linecap="round"/>
<polygon points="297.0,408.4 298.9,407.0 303.7,406.3 307.5,408.4 310.3,411.2 314.1,414.1 317.9,417.4 321.7,420.7 325.5,423.6 326.9,425.5 327.3,428.3 330.2,430.2 331.9,432.6 331.1,435.9 327.3,438.2 324.5,439.7 321.7,440.1 320.2,437.8 319.8,434.0 317.9,431.1 314.1,430.2 310.3,429.2 307.5,427.3 304.6,425.5 302.3,423.1 299.9,422.1 296.1,420.7 294.2,418.4 295.2,416.5 297.5,415.0 297.0,412.2" fill="#1aa3e6" stroke="#bdf4e6" stroke-width="1.2" stroke-linejoin="round"/>
<polyline points="259.8,256.5 365.8,256.5" fill="none" stroke="#1f3d22" stroke-width="1.4"/>
<polyline points="165.2,363.0 369.8,363.0 369.8,419.9" fill="none" stroke="#1f3d22" stroke-width="1.4"/>
<polyline points="176.7,487.7 441.7,487.7" fill="none" stroke="#1f3d22" stroke-width="1.4"/>
<polyline points="209.0,623.8 379.8,623.8 379.8,538.8" fill="none" stroke="#1f3d22" stroke-width="1.4"/>
<polyline points="268.1,751.0 412.5,751.0 412.5,610.6" fill="none" stroke="#1f3d22" stroke-width="1.4"/>
<polyline points="486.0,707.5 486.0,657.5" fill="none" stroke="#1f3d22" stroke-width="1.4"/>
<polyline points="706.0,701.5 507.5,701.5 507.5,590.0" fill="none" stroke="#1f3d22" stroke-width="1.4"/>
<polyline points="720.2,412.3 577.8,412.3 577.8,500.4" fill="none" stroke="#1f3d22" stroke-width="1.4"/>
<polyline points="586.0,269.8 495.5,269.8 495.5,357.0" fill="none" stroke="#1f3d22" stroke-width="1.4"/>
<circle cx="259.8" cy="256.5" r="3.4" fill="#1f3d22"/>
<circle cx="365.8" cy="256.5" r="3.3" fill="#ffffff"/>
<circle cx="165.2" cy="363.0" r="3.4" fill="#1f3d22"/>
<circle cx="369.8" cy="419.9" r="3.3" fill="#ffffff"/>
<circle cx="176.7" cy="487.7" r="3.4" fill="#1f3d22"/>
<circle cx="441.7" cy="487.7" r="3.3" fill="#ffffff"/>
<circle cx="209.0" cy="623.8" r="3.4" fill="#1f3d22"/>
<circle cx="379.8" cy="538.8" r="3.3" fill="#ffffff"/>
<circle cx="268.1" cy="751.0" r="3.4" fill="#1f3d22"/>
<circle cx="412.5" cy="610.6" r="3.3" fill="#ffffff"/>
<circle cx="486.0" cy="707.5" r="3.4" fill="#1f3d22"/>
<circle cx="486.0" cy="657.5" r="3.3" fill="#ffffff"/>
<circle cx="706.0" cy="701.5" r="3.4" fill="#1f3d22"/>
<circle cx="507.5" cy="590.0" r="3.3" fill="#ffffff"/>
<circle cx="720.2" cy="412.3" r="3.4" fill="#1f3d22"/>
<circle cx="577.8" cy="500.4" r="3.3" fill="#ffffff"/>
<circle cx="586.0" cy="269.8" r="3.4" fill="#1f3d22"/>
<circle cx="495.5" cy="357.0" r="3.3" fill="#ffffff"/>
<rect x="129" y="192" width="127.0" height="31.5" fill="#1556a4"/>
<text x="134.57" y="217.20" font-family="Liberation Sans" font-weight="normal" font-style="normal" font-size="27.47" textLength="115.72" lengthAdjust="spacingAndGlyphs" fill="#ffffff" stroke="#ffffff" stroke-width="0.6" stroke-linejoin="round" >PANDO</text>
<text x="146.81" y="252.25" font-family="Liberation Sans" font-weight="bold" font-style="italic" font-size="32.66" textLength="96.62" lengthAdjust="spacingAndGlyphs" fill="#18271f" stroke="#18271f" stroke-width="1.5" stroke-linejoin="round" >4.419</text>
<rect x="139.3" y="254.5" width="106.7" height="3" fill="#2f4f7a"/>
<text x="150.71" y="289.85" font-family="Liberation Sans" font-weight="bold" font-style="italic" font-size="32.66" textLength="85.20" lengthAdjust="spacingAndGlyphs" fill="#18271f" stroke="#18271f" stroke-width="1.5" stroke-linejoin="round" >1.701</text>
<rect x="46" y="297" width="106.0" height="31.0" fill="#1556a4"/>
<text x="50.42" y="320.70" font-family="Liberation Sans" font-weight="normal" font-style="normal" font-size="25.00" textLength="96.16" lengthAdjust="spacingAndGlyphs" fill="#ffffff" stroke="#ffffff" stroke-width="0.6" stroke-linejoin="round" >LA PAZ</text>
<text x="39.29" y="355.85" font-family="Liberation Sans" font-weight="bold" font-style="italic" font-size="31.66" textLength="114.62" lengthAdjust="spacingAndGlyphs" fill="#18271f" stroke="#18271f" stroke-width="1.5" stroke-linejoin="round" >45.347</text>
<rect x="46" y="361.0" width="105.6" height="3" fill="#2f4f7a"/>
<text x="35.55" y="393.85" font-family="Liberation Sans" font-weight="bold" font-style="italic" font-size="31.23" textLength="115.25" lengthAdjust="spacingAndGlyphs" fill="#18271f" stroke="#18271f" stroke-width="1.5" stroke-linejoin="round" >27.467</text>
<rect x="17" y="425" width="203.5" height="30.5" fill="#1556a4"/>
<text x="22.32" y="448.30" font-family="Liberation Sans" font-weight="normal" font-style="normal" font-size="22.53" textLength="192.34" lengthAdjust="spacingAndGlyphs" fill="#ffffff" stroke="#ffffff" stroke-width="0.6" stroke-linejoin="round" >COCHABAMBA</text>
<text x="62.40" y="482.25" font-family="Liberation Sans" font-weight="bold" font-style="italic" font-size="29.80" textLength="116.22" lengthAdjust="spacingAndGlyphs" fill="#18271f" stroke="#18271f" stroke-width="1.5" stroke-linejoin="round" >48.295</text>
<rect x="71" y="490.1" width="95.6" height="3" fill="#2f4f7a"/>
<text x="64.30" y="520.85" font-family="Liberation Sans" font-weight="bold" font-style="italic" font-size="31.23" textLength="105.16" lengthAdjust="spacingAndGlyphs" fill="#18271f" stroke="#18271f" stroke-width="1.5" stroke-linejoin="round" >21.075</text>
<rect x="95" y="562.7" width="114.0" height="30.9" fill="#1556a4"/>
<text x="98.86" y="587.60" font-family="Liberation Sans" font-weight="normal" font-style="normal" font-size="26.31" textLength="106.11" lengthAdjust="spacingAndGlyphs" fill="#ffffff" stroke="#ffffff" stroke-width="0.6" stroke-linejoin="round" >ORURO</text>
<text x="104.29" y="621.25" font-family="Liberation Sans" font-weight="bold" font-style="italic" font-size="31.23" textLength="93.18" lengthAdjust="spacingAndGlyphs" fill="#18271f" stroke="#18271f" stroke-width="1.5" stroke-linejoin="round" >9.263</text>
<rect x="110.5" y="625.0" width="83.3" height="3" fill="#2f4f7a"/>
<text x="101.34" y="659.85" font-family="Liberation Sans" font-weight="bold" font-style="italic" font-size="31.23" textLength="93.10" lengthAdjust="spacingAndGlyphs" fill="#18271f" stroke="#18271f" stroke-width="1.5" stroke-linejoin="round" >6.762</text>
<rect x="148.9" y="684.2" width="109.5" height="33.8" fill="#1556a4"/>
<text x="152.02" y="712.50" font-family="Liberation Sans" font-weight="normal" font-style="normal" font-size="26.31" textLength="100.04" lengthAdjust="spacingAndGlyphs" fill="#ffffff" stroke="#ffffff" stroke-width="0.6" stroke-linejoin="round" >POTOSÍ</text>
<text x="158.29" y="743.25" font-family="Liberation Sans" font-weight="bold" font-style="italic" font-size="29.80" textLength="93.25" lengthAdjust="spacingAndGlyphs" fill="#18271f" stroke="#18271f" stroke-width="1.5" stroke-linejoin="round" >9.920</text>
<rect x="161.5" y="749.7" width="83.3" height="3" fill="#2f4f7a"/>
<text x="153.77" y="781.95" font-family="Liberation Sans" font-weight="bold" font-style="italic" font-size="29.94" textLength="95.95" lengthAdjust="spacingAndGlyphs" fill="#18271f" stroke="#18271f" stroke-width="1.5" stroke-linejoin="round" >5.344</text>
<rect x="428" y="716.4" width="119.2" height="34.4" fill="#1556a4"/>
<text x="434.81" y="743.50" font-family="Liberation Sans" font-weight="normal" font-style="normal" font-size="28.78" textLength="105.54" lengthAdjust="spacingAndGlyphs" fill="#ffffff" stroke="#ffffff" stroke-width="0.6" stroke-linejoin="round" >TARIJA</text>
<text x="432.21" y="778.95" font-family="Liberation Sans" font-weight="bold" font-style="italic" font-size="31.38" textLength="104.14" lengthAdjust="spacingAndGlyphs" fill="#18271f" stroke="#18271f" stroke-width="1.5" stroke-linejoin="round" >12.503</text>
<rect x="443.8" y="782.9" width="83.5" height="3" fill="#2f4f7a"/>
<text x="434.19" y="817.25" font-family="Liberation Sans" font-weight="bold" font-style="italic" font-size="31.52" textLength="91.50" lengthAdjust="spacingAndGlyphs" fill="#18271f" stroke="#18271f" stroke-width="1.5" stroke-linejoin="round" >7.674</text>
<rect x="604" y="198.1" width="83.2" height="34.2" fill="#1556a4"/>
<text x="607.63" y="225.90" font-family="Liberation Sans" font-weight="normal" font-style="normal" font-size="27.47" textLength="76.07" lengthAdjust="spacingAndGlyphs" fill="#ffffff" stroke="#ffffff" stroke-width="0.6" stroke-linejoin="round" >BENI</text>
<text x="596.03" y="259.25" font-family="Liberation Sans" font-weight="bold" font-style="italic" font-size="29.80" textLength="96.14" lengthAdjust="spacingAndGlyphs" fill="#18271f" stroke="#18271f" stroke-width="1.5" stroke-linejoin="round" >11.595</text>
<rect x="604" y="267.7" width="83.2" height="3" fill="#2f4f7a"/>
<text x="595.18" y="296.95" font-family="Liberation Sans" font-weight="bold" font-style="italic" font-size="29.94" textLength="91.65" lengthAdjust="spacingAndGlyphs" fill="#18271f" stroke="#18271f" stroke-width="1.5" stroke-linejoin="round" >5.242</text>
<rect x="674.3" y="340.5" width="207.1" height="33.3" fill="#1556a4"/>
<text x="681.21" y="366.50" font-family="Liberation Sans" font-weight="normal" font-style="normal" font-size="25.58" textLength="193.24" lengthAdjust="spacingAndGlyphs" fill="#ffffff" stroke="#ffffff" stroke-width="0.6" stroke-linejoin="round" >SANTA CRUZ</text>
<text x="726.90" y="405.85" font-family="Liberation Sans" font-weight="bold" font-style="italic" font-size="30.80" textLength="105.70" lengthAdjust="spacingAndGlyphs" fill="#18271f" stroke="#18271f" stroke-width="1.5" stroke-linejoin="round" >50.158</text>
<rect x="737" y="410.8" width="83.2" height="3" fill="#2f4f7a"/>
<text x="728.80" y="443.05" font-family="Liberation Sans" font-weight="bold" font-style="italic" font-size="30.80" textLength="95.95" lengthAdjust="spacingAndGlyphs" fill="#18271f" stroke="#18271f" stroke-width="1.5" stroke-linejoin="round" >31.157</text>
<rect x="667.4" y="634.6" width="202.7" height="32.1" fill="#1556a4"/>
<text x="671.32" y="659.30" font-family="Liberation Sans" font-weight="normal" font-style="normal" font-size="25.73" textLength="193.93" lengthAdjust="spacingAndGlyphs" fill="#ffffff" stroke="#ffffff" stroke-width="0.6" stroke-linejoin="round" >CHUQUISACA</text>
<text x="725.55" y="696.45" font-family="Liberation Sans" font-weight="bold" font-style="italic" font-size="31.38" textLength="95.14" lengthAdjust="spacingAndGlyphs" fill="#18271f" stroke="#18271f" stroke-width="1.5" stroke-linejoin="round" >13.615</text>
<rect x="730.4" y="700.8" width="84.3" height="3" fill="#2f4f7a"/>
<text x="717.40" y="734.05" font-family="Liberation Sans" font-weight="bold" font-style="italic" font-size="31.38" textLength="106.02" lengthAdjust="spacingAndGlyphs" fill="#18271f" stroke="#18271f" stroke-width="1.5" stroke-linejoin="round" >10.270</text>
<g filter="url(#bsh)">
<rect x="937" y="205.7" width="312.6" height="169.3" rx="9" fill="#f39432" stroke="#e09a58" stroke-width="1.6"/>
</g>
<path d="M939.5,290 V214.7 Q939.5,208.2 946.5,208.2 H1240 Q1247,208.2 1247,214.7 V290 Z" fill="#ffffff"/>
<text x="963.53" y="243.10" font-family="Liberation Sans" font-weight="bold" font-style="normal" font-size="31.83" textLength="261.23" lengthAdjust="spacingAndGlyphs" fill="#141414" stroke="#141414" stroke-width="0.6" stroke-linejoin="round" >Total Vacunados</text>
<text x="1023.77" y="279.10" font-family="Liberation Sans" font-weight="bold" font-style="normal" font-size="30.21" textLength="141.25" lengthAdjust="spacingAndGlyphs" fill="#141414" stroke="#141414" stroke-width="0.6" stroke-linejoin="round" >1ra dosis</text>
<text x="987.96" y="352.60" font-family="Liberation Sans" font-weight="bold" font-style="normal" font-size="62.75" textLength="227.87" lengthAdjust="spacingAndGlyphs" fill="#231f20" stroke="#231f20" stroke-width="2.6" stroke-linejoin="round" >205.115</text>
<g filter="url(#bsh)">
<rect x="937" y="417.4" width="312.6" height="169.6" rx="9" fill="#f39432" stroke="#e09a58" stroke-width="1.6"/>
</g>
<path d="M939.5,501.5 V426.4 Q939.5,419.9 946.5,419.9 H1240 Q1247,419.9 1247,426.4 V501.5 Z" fill="#ffffff"/>
<text x="963.53" y="453.70" font-family="Liberation Sans" font-weight="bold" font-style="normal" font-size="30.67" textLength="261.23" lengthAdjust="spacingAndGlyphs" fill="#141414" stroke="#141414" stroke-width="0.6" stroke-linejoin="round" >Total Vacunados</text>
<text x="1018.95" y="491.10" font-family="Liberation Sans" font-weight="bold" font-style="normal" font-size="30.21" textLength="150.98" lengthAdjust="spacingAndGlyphs" fill="#141414" stroke="#141414" stroke-width="0.6" stroke-linejoin="round" >2da dosis</text>
<text x="981.26" y="563.20" font-family="Liberation Sans" font-weight="bold" font-style="normal" font-size="60.74" textLength="234.01" lengthAdjust="spacingAndGlyphs" fill="#231f20" stroke="#231f20" stroke-width="2.6" stroke-linejoin="round" >116.692</text>
<defs><clipPath id="patclip2"><rect x="1096" y="420" width="152" height="166"/></clipPath></defs>
<g clip-path="url(#patclip2)" fill="none" stroke="#7d7a3a" stroke-opacity="0.08" stroke-width="1.1">
<rect x="919" y="336" width="89" height="95"/>
<rect x="924" y="341" width="79" height="85"/>
<path d="M963.5,348.0 L996.0,383.5 L963.5,419.0 L931.0,383.5 Z"/>
<path d="M963.5,360.0 L984.0,383.5 L963.5,407.0 L943.0,383.5 Z"/>
<path d="M931.0,383.5 H996.0 M963.5,348.0 V419.0"/>
<rect x="919" y="431" width="89" height="89"/>
<rect x="924" y="436" width="79" height="79"/>
<path d="M963.5,443.0 L996.0,475.5 L963.5,508.0 L931.0,475.5 Z"/>
<path d="M963.5,455.0 L984.0,475.5 L963.5,496.0 L943.0,475.5 Z"/>
<path d="M931.0,475.5 H996.0 M963.5,443.0 V508.0"/>
<rect x="919" y="520" width="89" height="95"/>
<rect x="924" y="525" width="79" height="85"/>
<path d="M963.5,532.0 L996.0,567.5 L963.5,603.0 L931.0,567.5 Z"/>
<path d="M963.5,544.0 L984.0,567.5 L963.5,591.0 L943.0,567.5 Z"/>
<path d="M931.0,567.5 H996.0 M963.5,532.0 V603.0"/>
<rect x="919" y="615" width="89" height="97"/>
<rect x="924" y="620" width="79" height="87"/>
<path d="M963.5,627.0 L996.0,663.5 L963.5,700.0 L931.0,663.5 Z"/>
<path d="M963.5,639.0 L984.0,663.5 L963.5,688.0 L943.0,663.5 Z"/>
<path d="M931.0,663.5 H996.0 M963.5,627.0 V700.0"/>
<rect x="919" y="712" width="89" height="99"/>
<rect x="924" y="717" width="79" height="89"/>
<path d="M963.5,724.0 L996.0,761.5 L963.5,799.0 L931.0,761.5 Z"/>
<path d="M963.5,736.0 L984.0,761.5 L963.5,787.0 L943.0,761.5 Z"/>
<path d="M931.0,761.5 H996.0 M963.5,724.0 V799.0"/>
<rect x="1008" y="336" width="88" height="95"/>
<rect x="1013" y="341" width="78" height="85"/>
<path d="M1052.0,348.0 L1084.0,383.5 L1052.0,419.0 L1020.0,383.5 Z"/>
<path d="M1052.0,360.0 L1072.0,383.5 L1052.0,407.0 L1032.0,383.5 Z"/>
<path d="M1020.0,383.5 H1084.0 M1052.0,348.0 V419.0"/>
<rect x="1008" y="431" width="88" height="89"/>
<rect x="1013" y="436" width="78" height="79"/>
<path d="M1052.0,443.0 L1084.0,475.5 L1052.0,508.0 L1020.0,475.5 Z"/>
<path d="M1052.0,455.0 L1072.0,475.5 L1052.0,496.0 L1032.0,475.5 Z"/>
<path d="M1020.0,475.5 H1084.0 M1052.0,443.0 V508.0"/>
<rect x="1008" y="520" width="88" height="95"/>
<rect x="1013" y="525" width="78" height="85"/>
<path d="M1052.0,532.0 L1084.0,567.5 L1052.0,603.0 L1020.0,567.5 Z"/>
<path d="M1052.0,544.0 L1072.0,567.5 L1052.0,591.0 L1032.0,567.5 Z"/>
<path d="M1020.0,567.5 H1084.0 M1052.0,532.0 V603.0"/>
<rect x="1008" y="615" width="88" height="97"/>
<rect x="1013" y="620" width="78" height="87"/>
<path d="M1052.0,627.0 L1084.0,663.5 L1052.0,700.0 L1020.0,663.5 Z"/>
<path d="M1052.0,639.0 L1072.0,663.5 L1052.0,688.0 L1032.0,663.5 Z"/>
<path d="M1020.0,663.5 H1084.0 M1052.0,627.0 V700.0"/>
<rect x="1008" y="712" width="88" height="99"/>
<rect x="1013" y="717" width="78" height="89"/>
<path d="M1052.0,724.0 L1084.0,761.5 L1052.0,799.0 L1020.0,761.5 Z"/>
<path d="M1052.0,736.0 L1072.0,761.5 L1052.0,787.0 L1032.0,761.5 Z"/>
<path d="M1020.0,761.5 H1084.0 M1052.0,724.0 V799.0"/>
<rect x="1096" y="336" width="89" height="95"/>
<rect x="1101" y="341" width="79" height="85"/>
<path d="M1140.5,348.0 L1173.0,383.5 L1140.5,419.0 L1108.0,383.5 Z"/>
<path d="M1140.5,360.0 L1161.0,383.5 L1140.5,407.0 L1120.0,383.5 Z"/>
<path d="M1108.0,383.5 H1173.0 M1140.5,348.0 V419.0"/>
<rect x="1096" y="431" width="89" height="89"/>
<rect x="1101" y="436" width="79" height="79"/>
<path d="M1140.5,443.0 L1173.0,475.5 L1140.5,508.0 L1108.0,475.5 Z"/>
<path d="M1140.5,455.0 L1161.0,475.5 L1140.5,496.0 L1120.0,475.5 Z"/>
<path d="M1108.0,475.5 H1173.0 M1140.5,443.0 V508.0"/>
<rect x="1096" y="520" width="89" height="95"/>
<rect x="1101" y="525" width="79" height="85"/>
<path d="M1140.5,532.0 L1173.0,567.5 L1140.5,603.0 L1108.0,567.5 Z"/>
<path d="M1140.5,544.0 L1161.0,567.5 L1140.5,591.0 L1120.0,567.5 Z"/>
<path d="M1108.0,567.5 H1173.0 M1140.5,532.0 V603.0"/>
<rect x="1096" y="615" width="89" height="97"/>
<rect x="1101" y="620" width="79" height="87"/>
<path d="M1140.5,627.0 L1173.0,663.5 L1140.5,700.0 L1108.0,663.5 Z"/>
<path d="M1140.5,639.0 L1161.0,663.5 L1140.5,688.0 L1120.0,663.5 Z"/>
<path d="M1108.0,663.5 H1173.0 M1140.5,627.0 V700.0"/>
<rect x="1096" y="712" width="89" height="99"/>
<rect x="1101" y="717" width="79" height="89"/>
<path d="M1140.5,724.0 L1173.0,761.5 L1140.5,799.0 L1108.0,761.5 Z"/>
<path d="M1140.5,736.0 L1161.0,761.5 L1140.5,787.0 L1120.0,761.5 Z"/>
<path d="M1108.0,761.5 H1173.0 M1140.5,724.0 V799.0"/>
<rect x="1185" y="336" width="88" height="95"/>
<rect x="1190" y="341" width="78" height="85"/>
<path d="M1229.0,348.0 L1261.0,383.5 L1229.0,419.0 L1197.0,383.5 Z"/>
<path d="M1229.0,360.0 L1249.0,383.5 L1229.0,407.0 L1209.0,383.5 Z"/>
<path d="M1197.0,383.5 H1261.0 M1229.0,348.0 V419.0"/>
<rect x="1185" y="431" width="88" height="89"/>
<rect x="1190" y="436" width="78" height="79"/>
<path d="M1229.0,443.0 L1261.0,475.5 L1229.0,508.0 L1197.0,475.5 Z"/>
<path d="M1229.0,455.0 L1249.0,475.5 L1229.0,496.0 L1209.0,475.5 Z"/>
<path d="M1197.0,475.5 H1261.0 M1229.0,443.0 V508.0"/>
<rect x="1185" y="520" width="88" height="95"/>
<rect x="1190" y="525" width="78" height="85"/>
<path d="M1229.0,532.0 L1261.0,567.5 L1229.0,603.0 L1197.0,567.5 Z"/>
<path d="M1229.0,544.0 L1249.0,567.5 L1229.0,591.0 L1209.0,567.5 Z"/>
<path d="M1197.0,567.5 H1261.0 M1229.0,532.0 V603.0"/>
<rect x="1185" y="615" width="88" height="97"/>
<rect x="1190" y="620" width="78" height="87"/>
<path d="M1229.0,627.0 L1261.0,663.5 L1229.0,700.0 L1197.0,663.5 Z"/>
<path d="M1229.0,639.0 L1249.0,663.5 L1229.0,688.0 L1209.0,663.5 Z"/>
<path d="M1197.0,663.5 H1261.0 M1229.0,627.0 V700.0"/>
<rect x="1185" y="712" width="88" height="99"/>
<rect x="1190" y="717" width="78" height="89"/>
<path d="M1229.0,724.0 L1261.0,761.5 L1229.0,799.0 L1197.0,761.5 Z"/>
<path d="M1229.0,736.0 L1249.0,761.5 L1229.0,787.0 L1209.0,761.5 Z"/>
<path d="M1197.0,761.5 H1261.0 M1229.0,724.0 V799.0"/>
</g>
<rect x="931" y="621" width="316.5" height="189" rx="3" fill="#def2d9" opacity="0.92"/>
<text x="989.81" y="678.57" font-family="Liberation Sans" font-weight="normal" font-style="italic" font-size="23.33" textLength="197.95" lengthAdjust="spacingAndGlyphs" fill="#2b3b86" stroke="#2b3b86" stroke-width="0.45" stroke-linejoin="round" >*Dosis Sputnik - V,</text>
<text x="948.55" y="708.48" font-family="Liberation Sans" font-weight="normal" font-style="italic" font-size="23.33" textLength="278.75" lengthAdjust="spacingAndGlyphs" fill="#2b3b86" stroke="#2b3b86" stroke-width="0.45" stroke-linejoin="round" >Sinopharm y AstraZeneca</text>
<text x="955.63" y="736.57" font-family="Liberation Sans" font-weight="normal" font-style="italic" font-size="23.33" textLength="262.94" lengthAdjust="spacingAndGlyphs" fill="#2b3b86" stroke="#2b3b86" stroke-width="0.45" stroke-linejoin="round" >para personal de salud y</text>
<text x="946.83" y="767.27" font-family="Liberation Sans" font-weight="normal" font-style="italic" font-size="23.33" textLength="281.88" lengthAdjust="spacingAndGlyphs" fill="#2b3b86" stroke="#2b3b86" stroke-width="0.45" stroke-linejoin="round" >personas con enfermedad</text>
<text x="1044.60" y="795.48" font-family="Liberation Sans" font-weight="normal" font-style="italic" font-size="23.33" textLength="86.18" lengthAdjust="spacingAndGlyphs" fill="#2b3b86" stroke="#2b3b86" stroke-width="0.45" stroke-linejoin="round" >de base</text>
<rect x="0" y="843" width="1280" height="1" fill="#98d0b0" opacity="0.6"/>
<rect x="0" y="844" width="1280" height="1" fill="#b8e8cc"/>
</svg></body></html>
